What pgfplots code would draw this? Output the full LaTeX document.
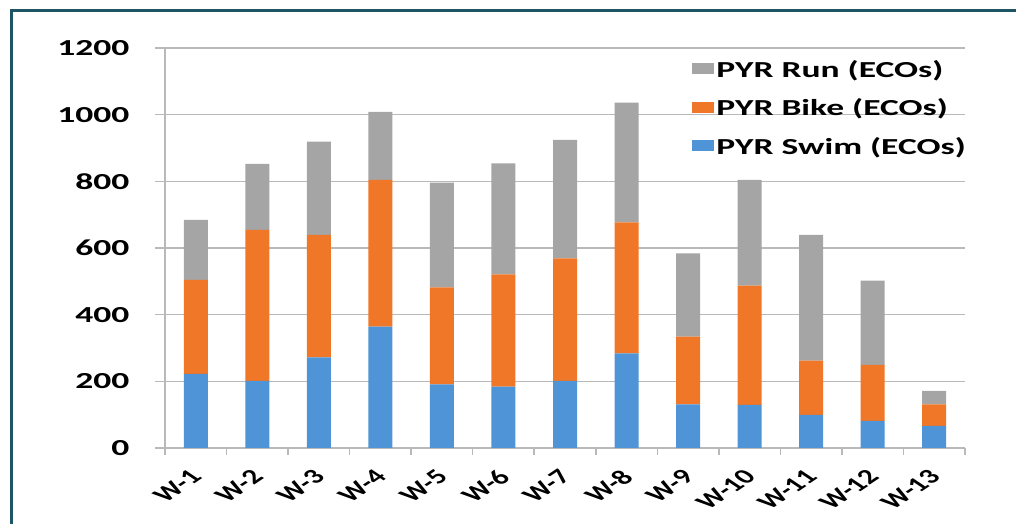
\documentclass[border=0pt]{standalone}
\usepackage{fontspec}
\setmainfont{Carlito}[FakeStretch=1.55]
\newfontfamily\plainfont{Carlito}
\usepackage{pgfplots}
\pgfplotsset{compat=1.18}
\definecolor{swim}{RGB}{79,148,214}
\definecolor{bike}{RGB}{240,118,40}
\definecolor{run}{RGB}{165,165,165}
\definecolor{gridc}{RGB}{185,185,185}
\definecolor{framec}{RGB}{30,85,100}
\begin{document}
\begin{tikzpicture}
\useasboundingbox (0,0) rectangle (1016bp,524bp);
\draw[framec, line width=3bp] (11bp,-3bp) -- (11bp,513bp) -- (1020bp,513bp);
\begin{axis}[
  at={(165bp,76bp)}, anchor=south west,
  scale only axis, width=800bp, height=400bp,
  ybar stacked, bar width=24bp,
  xmin=-0.5, xmax=12.5, ymin=0, ymax=1200,
  ytick={0,200,...,1200},
  xtick={0,...,12},
  xticklabels={W-1,W-2,W-3,W-4,W-5,W-6,W-7,W-8,W-9,W-10,W-11,W-12,W-13},
  minor xtick={-0.5,0.5,...,12.5},
  major x tick style={draw=none},
  axis x line=bottom, axis y line=left,
  axis line style={-, gridc, line width=1.6bp},
  ymajorgrids, grid style={gridc, line width=1.6bp},
  tick align=outside,
  major tick length=10bp, minor tick length=7bp,
  tick style={gridc, line width=1.6bp},
  /pgf/number format/assume math mode=true,
  /pgf/number format/1000 sep={},
  yticklabel style={font=\bfseries\fontsize{23}{26}\selectfont, xshift=-22bp},
  xticklabel style={font=\plainfont\bfseries\fontsize{21}{25}\selectfont, anchor=north east, inner sep=1bp, xshift=-7bp, yshift=-9bp, xscale=1.5, rotate=45},
  reverse legend,
  legend cell align=left,
  legend image code/.code={\draw[#1, draw=none] (0bp,-5bp) rectangle (22bp,6bp);},
  legend style={at={(1,1)}, anchor=north east, draw=none, fill=none,
    font=\bfseries\fontsize{23}{27}\selectfont, row sep=16bp, inner sep=1bp,
    xshift=4bp, yshift=-9bp},
]
\addplot[fill=swim, draw=none] coordinates {(0,222) (1,201) (2,272) (3,364) (4,191) (5,184) (6,201) (7,284) (8,131) (9,129) (10,99) (11,81) (12,66)};
\addplot[fill=bike, draw=none] coordinates {(0,282) (1,453) (2,367) (3,440) (4,291) (5,337) (6,368) (7,393) (8,203) (9,358) (10,163) (11,168) (12,65)};
\addplot[fill=run, draw=none] coordinates {(0,180) (1,198) (2,280) (3,204) (4,314) (5,333) (6,355) (7,359) (8,250) (9,317) (10,377) (11,253) (12,40)};
\legend{PYR Swim (ECOs),PYR Bike (ECOs),PYR Run (ECOs)}
\end{axis}
\end{tikzpicture}
\end{document}
